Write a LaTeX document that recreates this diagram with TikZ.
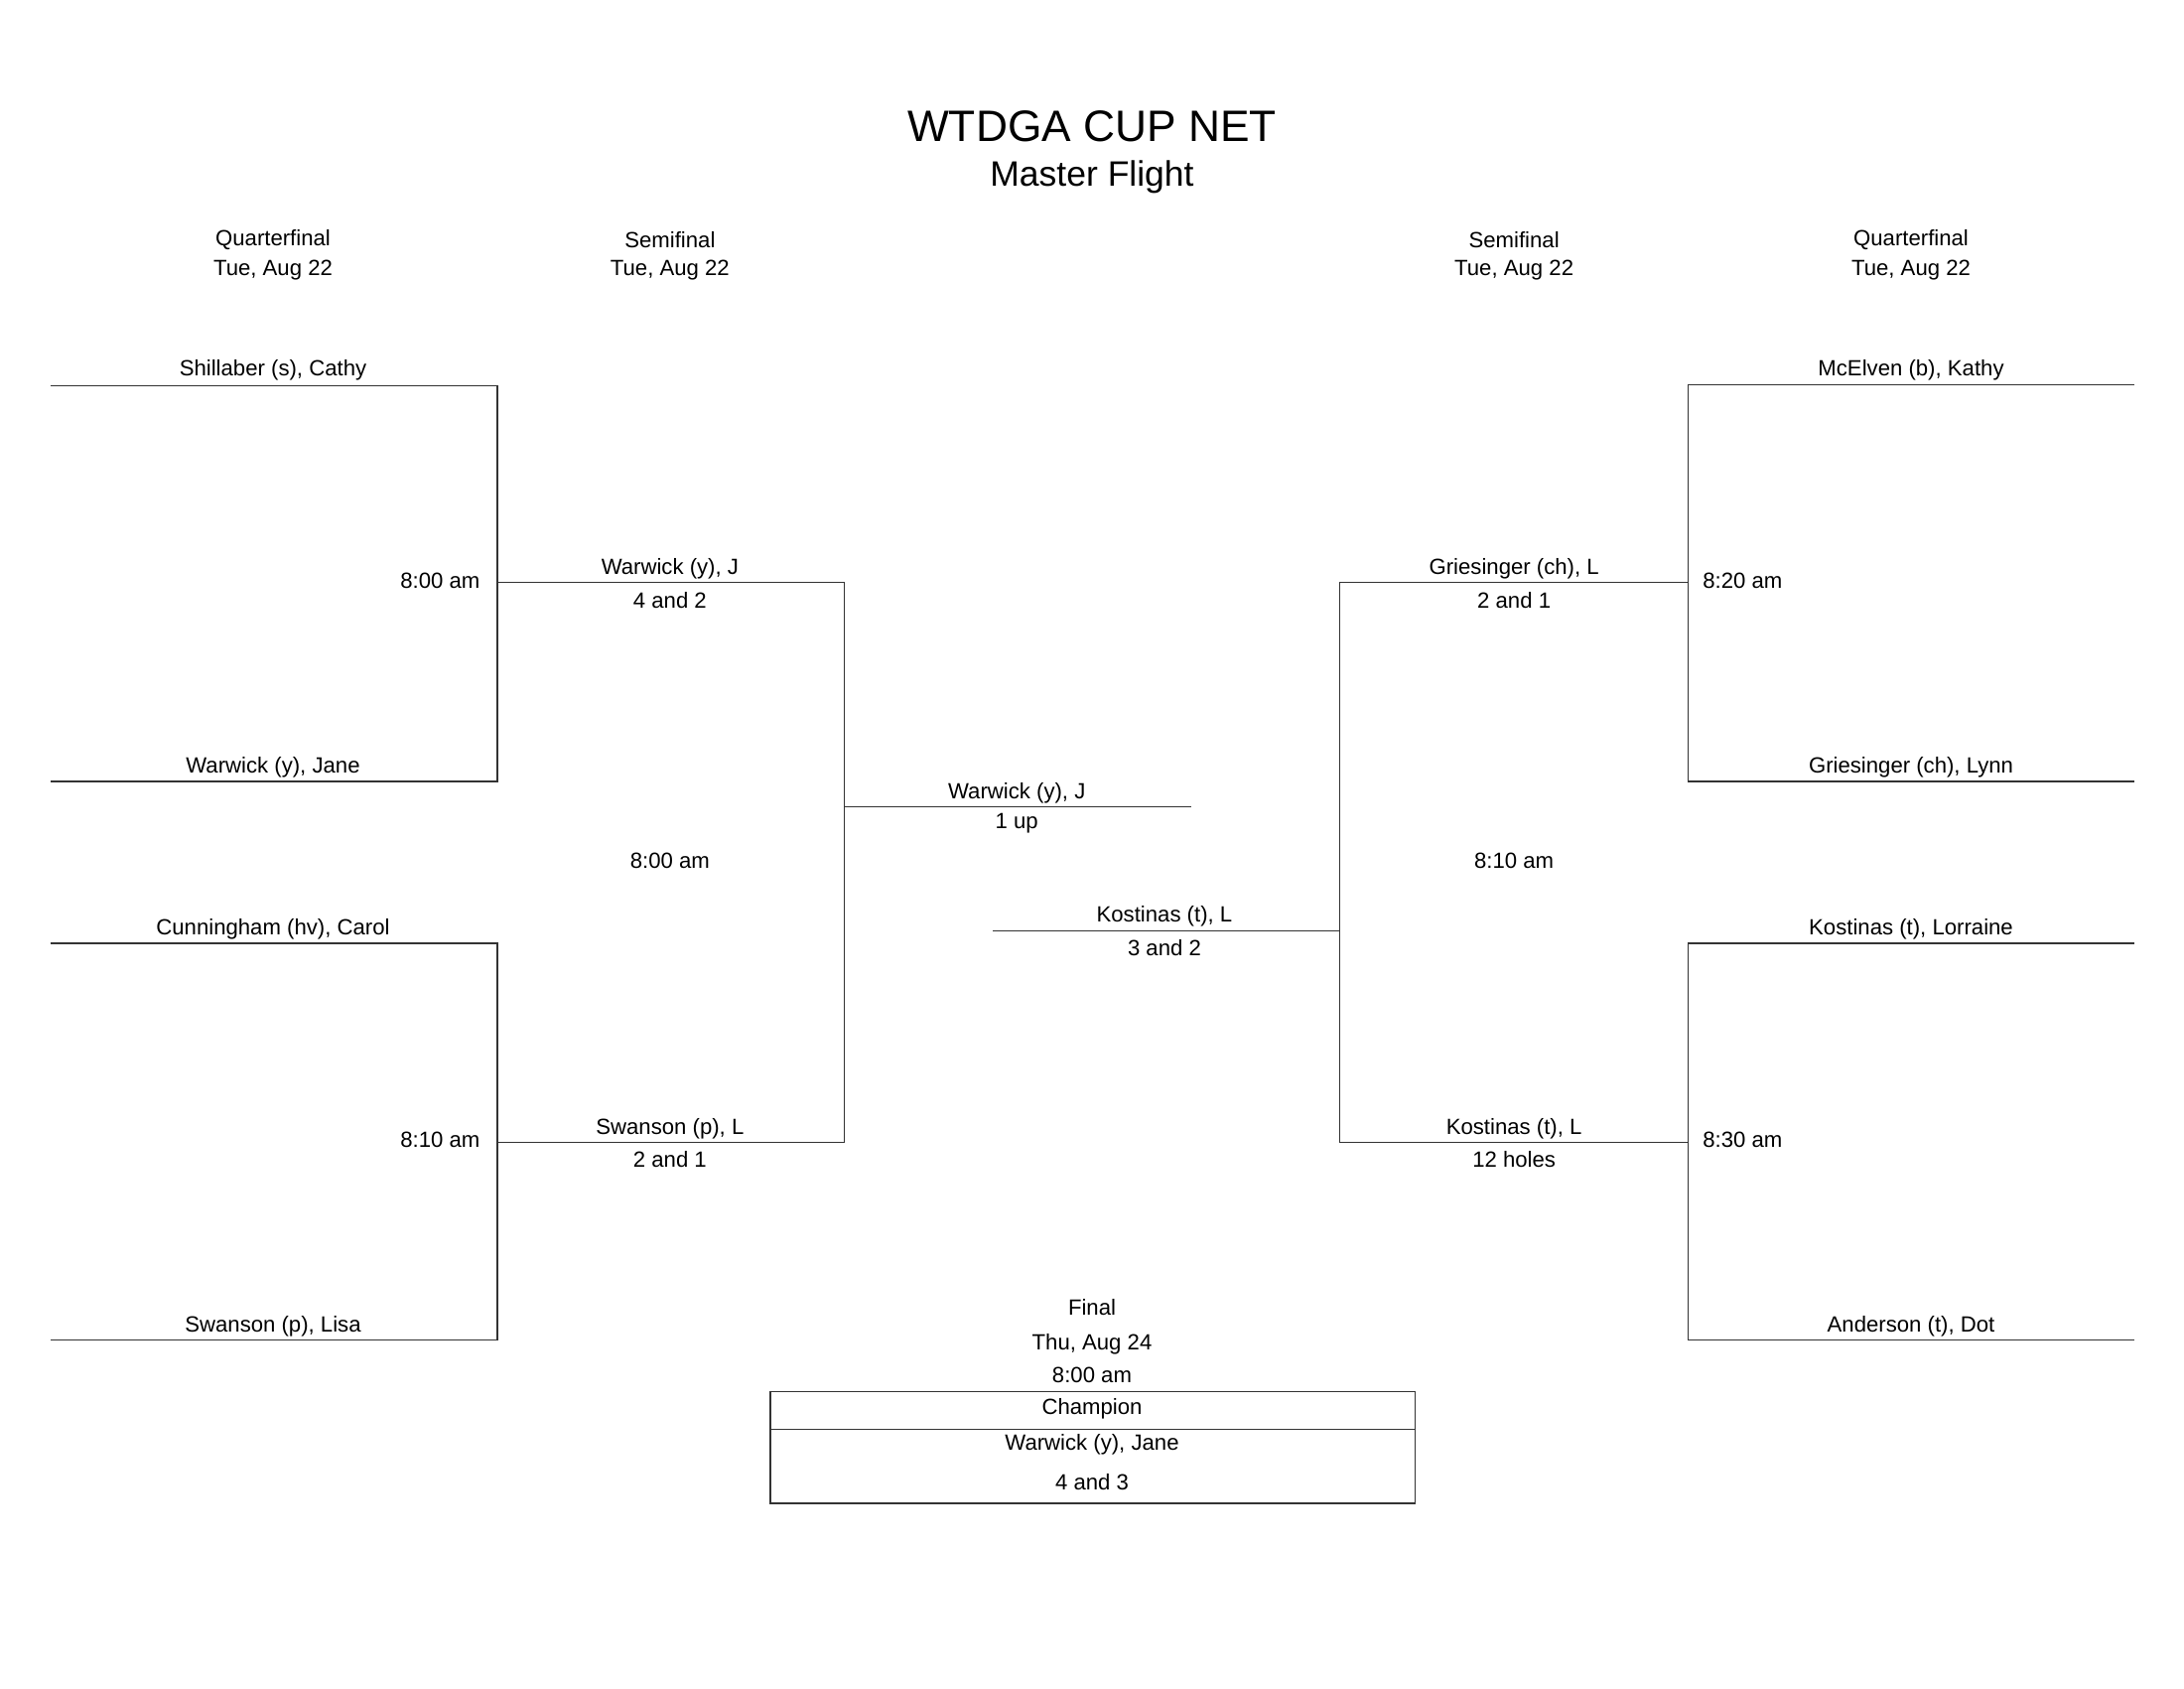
\documentclass[tikz,border=0pt]{standalone}
\usepackage{fontspec}
\setmainfont{Liberation Sans}
\begin{document}
\begin{tikzpicture}[x=0.01403cm,y=-0.01403cm,
  lbl/.style={inner sep=0pt,font=\fontsize{6.3}{7}\selectfont},
  ln/.style={line width=0.4pt,black!80}]
\useasboundingbox (0,0) rectangle (1568,1212);
\node[inner sep=0pt,font=\fontsize{12.6}{14}\selectfont] (t1) at (784,91) {WTDGA CUP NET};
\node[inner sep=0pt,font=\fontsize{10.1}{12}\selectfont] (t2) at (784,127) {Master Flight};
\foreach \x/\n in {196/Quarterfinal,481/Semifinal,1087/Semifinal,1372/Quarterfinal}{
  \node[lbl] at (\x,172) {\n};
  \node[lbl] at (\x,194) {Tue, Aug 22};}
% left QF
\coordinate (a1) at (36,277); \coordinate (a2) at (357,277);
\coordinate (b1) at (36,561); \coordinate (b2) at (357,561);
\coordinate (c1) at (36,677); \coordinate (c2) at (357,677);
\coordinate (d1) at (36,962); \coordinate (d2) at (357,962);
\draw[ln] (a1)--(a2)--(b2)--(b1);
\draw[ln] (c1)--(c2)--(d2)--(d1);
\coordinate (e1) at (357,418); \coordinate (e2) at (606,418);
\coordinate (f1) at (357,820); \coordinate (f2) at (606,820);
\draw[ln] (e1)--(e2)--(f2)--(f1);
\coordinate (g1) at (606,579); \coordinate (g2) at (855,579);
\draw[ln] (g1)--(g2);
% right
\coordinate (h1) at (1532,276); \coordinate (h2) at (1212,276);
\coordinate (i1) at (1532,561); \coordinate (i2) at (1212,561);
\coordinate (j1) at (1532,677); \coordinate (j2) at (1212,677);
\coordinate (k1) at (1532,962); \coordinate (k2) at (1212,962);
\draw[ln] (h1)--(h2)--(i2)--(i1);
\draw[ln] (j1)--(j2)--(k2)--(k1);
\coordinate (m1) at (1212,418); \coordinate (m2) at (962,418);
\coordinate (n1) at (1212,820); \coordinate (n2) at (962,820);
\draw[ln] (m1)--(m2)--(n2)--(n1);
\coordinate (o1) at (962,668); \coordinate (o2) at (713,668);
\draw[ln] (o1)--(o2);
% names
\node[lbl] at (196,266) {Shillaber (s), Cathy};
\node[lbl] at (196,551) {Warwick (y), Jane};
\node[lbl] at (196,667) {Cunningham (hv), Carol};
\node[lbl] at (196,952) {Swanson (p), Lisa};
\node[lbl,anchor=east] at (345,417) {8:00 am};
\node[lbl,anchor=east] at (345,818) {8:10 am};
\node[lbl] at (481,408) {Warwick (y), J};
\node[lbl] at (481,431) {4 and 2};
\node[lbl] at (481,810) {Swanson (p), L};
\node[lbl] at (481,832) {2 and 1};
\node[lbl] at (481,618) {8:00 am};
\node[lbl] at (730,569) {Warwick (y), J};
\node[lbl] at (730,591) {1 up};
\node[lbl] at (836,658) {Kostinas (t), L};
\node[lbl] at (836,680) {3 and 2};
\node[lbl] at (1087,408) {Griesinger (ch), L};
\node[lbl] at (1087,431) {2 and 1};
\node[lbl] at (1087,810) {Kostinas (t), L};
\node[lbl] at (1087,832) {12 holes};
\node[lbl] at (1087,618) {8:10 am};
\node[lbl,anchor=west] at (1222,417) {8:20 am};
\node[lbl,anchor=west] at (1222,818) {8:30 am};
\node[lbl] at (1372,266) {McElven (b), Kathy};
\node[lbl] at (1372,551) {Griesinger (ch), Lynn};
\node[lbl] at (1372,667) {Kostinas (t), Lorraine};
\node[lbl] at (1372,952) {Anderson (t), Dot};
% final
\node[lbl] at (784,938) {Final};
\node[lbl] at (784,965) {Thu, Aug 24};
\node[lbl] at (784,987) {8:00 am};
\draw[ln] (553,999) rectangle (1016,1079);
\draw[ln] (553,1026) -- (1016,1026);
\node[lbl] at (784,1011) {Champion};
\node[lbl] at (784,1037) {Warwick (y), Jane};
\node[lbl] at (784,1064) {4 and 3};
\end{tikzpicture}
\end{document}
